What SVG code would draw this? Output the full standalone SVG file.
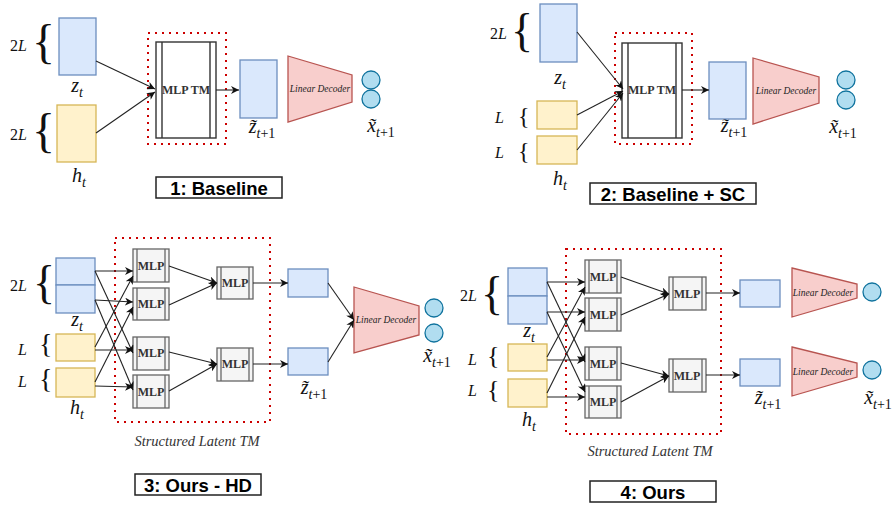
<svg xmlns="http://www.w3.org/2000/svg" width="893" height="505" viewBox="0 0 893 505">
<defs>
<marker id="arr" viewBox="0 0 10 10" refX="10" refY="5" markerWidth="8" markerHeight="8" markerUnits="userSpaceOnUse" orient="auto">
<path d="M0,0 L10,5 L0,10 L3,5 Z" fill="#111"/>
</marker>
<style>
.zb{fill:#dae8fc;stroke:#6c8ebf;stroke-width:1.3}
.hb{fill:#fff2cc;stroke:#d6b656;stroke-width:1.3}
.mlp{fill:#f5f5f5;stroke:#666;stroke-width:1.3}
.mlpl{stroke:#666;stroke-width:1.3}
.tm{fill:#fff;stroke:#333;stroke-width:1.4}
.tml{stroke:#333;stroke-width:1.4}
.dec{fill:#f8cecc;stroke:#b85450;stroke-width:1.3}
.circ{fill:#b1ddf0;stroke:#10739e;stroke-width:1.3}
.dot{fill:none;stroke:#cc0000;stroke-width:2;stroke-dasharray:2 5}
.edge{stroke:#222;stroke-width:1.1;fill:none;marker-end:url(#arr)}
.m{font-family:"Liberation Serif",serif;font-style:italic;fill:#111}
.c{text-anchor:middle;font-size:20px}
.s{font-size:14px}
.up{font-style:normal}
.br{font-family:"Liberation Serif",serif;fill:#111}
.mt{font-family:"Liberation Serif",serif;font-weight:bold;font-size:12px;fill:#333;text-anchor:middle}
.dt{font-family:"Liberation Serif",serif;font-style:italic;font-size:9.5px;fill:#222;text-anchor:middle}
.st{font-family:"Liberation Serif",serif;font-style:italic;font-size:14.5px;fill:#333;text-anchor:middle}
.tb{fill:#fff;stroke:#222;stroke-width:1.5}
.tt{font-family:"Liberation Sans",Arial,sans-serif;font-weight:bold;font-size:18.5px;fill:#000;text-anchor:middle}
</style>
</defs>

<!-- Panel 1 -->
<g id="p1-labels">
<text class="m" x="10" y="51" font-size="16"><tspan class="up">2</tspan>L</text>
<text class="br" x="32" y="58" font-size="48">{</text>
<text class="m" x="10" y="140" font-size="16"><tspan class="up">2</tspan>L</text>
<text class="br" x="32" y="147" font-size="48">{</text>
<text class="m c" x="77" y="92">z<tspan class="s" dy="5">t</tspan></text>
<text class="m c" x="79" y="182">h<tspan class="s" dy="5">t</tspan></text>
<text class="m c" x="262" y="133">z̃<tspan class="s" dy="5">t<tspan class="up">+1</tspan></tspan></text>
<text class="m c" x="381" y="132">x̃<tspan class="s" dy="5">t<tspan class="up">+1</tspan></tspan></text>
</g>
<g id="p1-zt"><rect class="zb" x="59" y="18" width="37" height="57"/></g>
<g id="p1-ht"><rect class="hb" x="57" y="105" width="39" height="57"/></g>
<g id="p1-tm">
<rect class="dot" x="148" y="33" width="78" height="111"/>
<rect class="tm" x="156" y="42" width="60" height="96"/>
<line class="tml" x1="162" y1="42" x2="162" y2="138"/>
<line class="tml" x1="210" y1="42" x2="210" y2="138"/>
<text class="mt" x="186" y="94">MLP TM</text>
</g>
<g id="p1-zn"><rect class="zb" x="240" y="60" width="37" height="58"/></g>
<g id="p1-dec">
<path class="dec" d="M288,56 L352,75 L352,102 L288,122 Z"/>
<text class="dt" x="320" y="92">Linear Decoder</text>
</g>
<g id="p1-x"><circle class="circ" cx="371" cy="80" r="9"/><circle class="circ" cx="371" cy="99" r="9"/></g>
<g id="p1-title"><rect class="tb" x="156" y="177" width="126" height="21"/><text class="tt" x="219" y="194.5">1: Baseline</text></g>
<g id="p1-edges">
<path class="edge" d="M96,61 L155,89"/>
<path class="edge" d="M96,133 L155,92"/>
<path class="edge" d="M216,90 L239,90"/>
</g>

<!-- Panel 2 -->
<g id="p2-labels">
<text class="m" x="490" y="39" font-size="16"><tspan class="up">2</tspan>L</text>
<text class="br" x="511" y="46" font-size="46">{</text>
<text class="m" x="495" y="123" font-size="16">L</text>
<text class="br" x="518" y="124" font-size="24">{</text>
<text class="m" x="495" y="158" font-size="16">L</text>
<text class="br" x="518" y="159" font-size="24">{</text>
<text class="m c" x="560" y="84">z<tspan class="s" dy="5">t</tspan></text>
<text class="m c" x="560" y="185">h<tspan class="s" dy="5">t</tspan></text>
<text class="m c" x="734" y="132">z̃<tspan class="s" dy="5">t<tspan class="up">+1</tspan></tspan></text>
<text class="m c" x="843" y="133">x̃<tspan class="s" dy="5">t<tspan class="up">+1</tspan></tspan></text>
</g>
<g id="p2-zt"><rect class="zb" x="540" y="4" width="37" height="58"/></g>
<g id="p2-ht1"><rect class="hb" x="537" y="101" width="40" height="28"/></g>
<g id="p2-ht2"><rect class="hb" x="537" y="136" width="40" height="28"/></g>
<g id="p2-tm">
<rect class="dot" x="615" y="33" width="77" height="111"/>
<rect class="tm" x="622" y="43" width="60" height="95"/>
<line class="tml" x1="628" y1="43" x2="628" y2="138"/>
<line class="tml" x1="676" y1="43" x2="676" y2="138"/>
<text class="mt" x="652" y="94">MLP TM</text>
</g>
<g id="p2-zn"><rect class="zb" x="709" y="62" width="37" height="57"/></g>
<g id="p2-dec">
<path class="dec" d="M753,58 L819,77 L819,103 L753,124 Z"/>
<text class="dt" x="786" y="94">Linear Decoder</text>
</g>
<g id="p2-x"><circle class="circ" cx="846" cy="80" r="9"/><circle class="circ" cx="846" cy="100" r="9"/></g>
<g id="p2-title"><rect class="tb" x="590" y="183" width="166" height="21"/><text class="tt" x="673" y="200.5">2: Baseline + SC</text></g>
<g id="p2-edges">
<path class="edge" d="M577,32 L623,89"/>
<path class="edge" d="M577,115 L623,91"/>
<path class="edge" d="M577,150 L623,93"/>
<path class="edge" d="M682,90 L709,90"/>
</g>

<!-- Panel 3 -->
<g id="p3-labels">
<text class="m" x="10" y="291" font-size="16"><tspan class="up">2</tspan>L</text>
<text class="br" x="33" y="298" font-size="46">{</text>
<text class="m" x="18" y="355" font-size="16">L</text>
<text class="br" x="39" y="353" font-size="28">{</text>
<text class="m" x="18" y="387" font-size="16">L</text>
<text class="br" x="39" y="388" font-size="28">{</text>
<text class="m c" x="77" y="326">z<tspan class="s" dy="5">t</tspan></text>
<text class="m c" x="77" y="414">h<tspan class="s" dy="5">t</tspan></text>
<text class="m c" x="314" y="394">z̃<tspan class="s" dy="5">t<tspan class="up">+1</tspan></tspan></text>
<text class="m c" x="437" y="362">x̃<tspan class="s" dy="5">t<tspan class="up">+1</tspan></tspan></text>
<text class="st" x="197" y="446">Structured Latent TM</text>
</g>
<g id="p3-zt"><rect class="zb" x="56" y="258" width="39" height="27"/><rect class="zb" x="56" y="285" width="39" height="28"/></g>
<g id="p3-ht1"><rect class="hb" x="56" y="334" width="39" height="27"/></g>
<g id="p3-ht2"><rect class="hb" x="56" y="368" width="39" height="29"/></g>
<rect class="dot" x="115" y="238" width="155" height="184"/>
<g id="p3-mlp1"><rect class="mlp" x="133" y="249" width="36" height="33"/><line class="mlpl" x1="137" y1="249" x2="137" y2="282"/><line class="mlpl" x1="165" y1="249" x2="165" y2="282"/><text class="mt" x="151" y="270">MLP</text></g>
<g id="p3-mlp2"><rect class="mlp" x="133" y="288" width="36" height="32"/><line class="mlpl" x1="137" y1="288" x2="137" y2="320"/><line class="mlpl" x1="165" y1="288" x2="165" y2="320"/><text class="mt" x="151" y="308">MLP</text></g>
<g id="p3-mlp3"><rect class="mlp" x="133" y="337" width="36" height="33"/><line class="mlpl" x1="137" y1="337" x2="137" y2="370"/><line class="mlpl" x1="165" y1="337" x2="165" y2="370"/><text class="mt" x="151" y="357">MLP</text></g>
<g id="p3-mlp4"><rect class="mlp" x="133" y="375" width="36" height="33"/><line class="mlpl" x1="137" y1="375" x2="137" y2="408"/><line class="mlpl" x1="165" y1="375" x2="165" y2="408"/><text class="mt" x="151" y="396">MLP</text></g>
<g id="p3-mlp5"><rect class="mlp" x="217" y="267" width="36" height="32"/><line class="mlpl" x1="221" y1="267" x2="221" y2="299"/><line class="mlpl" x1="249" y1="267" x2="249" y2="299"/><text class="mt" x="235" y="287">MLP</text></g>
<g id="p3-mlp6"><rect class="mlp" x="217" y="348" width="36" height="33"/><line class="mlpl" x1="221" y1="348" x2="221" y2="381"/><line class="mlpl" x1="249" y1="348" x2="249" y2="381"/><text class="mt" x="235" y="368">MLP</text></g>
<g id="p3-zn1"><rect class="zb" x="288" y="269" width="40" height="28"/></g>
<g id="p3-zn2"><rect class="zb" x="288" y="348" width="40" height="27"/></g>
<g id="p3-dec">
<path class="dec" d="M354,287 L419,306 L419,335 L354,353 Z"/>
<text class="dt" x="386" y="323">Linear Decoder</text>
</g>
<g id="p3-x"><circle class="circ" cx="434" cy="308" r="9"/><circle class="circ" cx="434" cy="333" r="9"/></g>
<g id="p3-title"><rect class="tb" x="135" y="474" width="126" height="21"/><text class="tt" x="198" y="491.5">3: Ours - HD</text></g>
<g id="p3-edges">
<path class="edge" d="M95,271 L133,271"/>
<path class="edge" d="M95,271 L133,353"/>
<path class="edge" d="M95,300 L133,302"/>
<path class="edge" d="M95,300 L133,390"/>
<path class="edge" d="M95,350 L133,350"/>
<path class="edge" d="M95,347 L133,276"/>
<path class="edge" d="M95,386 L133,387"/>
<path class="edge" d="M95,382 L133,307"/>
<path class="edge" d="M169,266 L217,283"/>
<path class="edge" d="M169,305 L217,283"/>
<path class="edge" d="M169,352 L217,364"/>
<path class="edge" d="M169,391 L217,364"/>
<path class="edge" d="M253,283 L288,283"/>
<path class="edge" d="M253,364 L288,364"/>
<path class="edge" d="M328,283 L354,320"/>
<path class="edge" d="M328,362 L354,320"/>
</g>

<!-- Panel 4 -->
<g id="p4-labels">
<text class="m" x="460" y="301" font-size="16"><tspan class="up">2</tspan>L</text>
<text class="br" x="481" y="309" font-size="46">{</text>
<text class="m" x="468" y="365" font-size="16">L</text>
<text class="br" x="487" y="364" font-size="26">{</text>
<text class="m" x="468" y="396" font-size="16">L</text>
<text class="br" x="487" y="398" font-size="26">{</text>
<text class="m c" x="529" y="337">z<tspan class="s" dy="5">t</tspan></text>
<text class="m c" x="529" y="426">h<tspan class="s" dy="5">t</tspan></text>
<text class="m c" x="768" y="404">z̃<tspan class="s" dy="5">t<tspan class="up">+1</tspan></tspan></text>
<text class="m c" x="878" y="404">x̃<tspan class="s" dy="5">t<tspan class="up">+1</tspan></tspan></text>
<text class="st" x="650" y="456">Structured Latent TM</text>
</g>
<g id="p4-zt"><rect class="zb" x="508" y="268" width="39" height="28"/><rect class="zb" x="508" y="296" width="39" height="28"/></g>
<g id="p4-ht1"><rect class="hb" x="508" y="344" width="39" height="27"/></g>
<g id="p4-ht2"><rect class="hb" x="508" y="379" width="39" height="28"/></g>
<rect class="dot" x="566" y="249" width="155" height="185"/>
<g id="p4-mlp1"><rect class="mlp" x="585" y="260" width="36" height="33"/><line class="mlpl" x1="589" y1="260" x2="589" y2="293"/><line class="mlpl" x1="617" y1="260" x2="617" y2="293"/><text class="mt" x="603" y="281">MLP</text></g>
<g id="p4-mlp2"><rect class="mlp" x="585" y="298" width="36" height="33"/><line class="mlpl" x1="589" y1="298" x2="589" y2="331"/><line class="mlpl" x1="617" y1="298" x2="617" y2="331"/><text class="mt" x="603" y="319">MLP</text></g>
<g id="p4-mlp3"><rect class="mlp" x="585" y="347" width="36" height="33"/><line class="mlpl" x1="589" y1="347" x2="589" y2="380"/><line class="mlpl" x1="617" y1="347" x2="617" y2="380"/><text class="mt" x="603" y="368">MLP</text></g>
<g id="p4-mlp4"><rect class="mlp" x="585" y="386" width="36" height="32"/><line class="mlpl" x1="589" y1="386" x2="589" y2="418"/><line class="mlpl" x1="617" y1="386" x2="617" y2="418"/><text class="mt" x="603" y="406">MLP</text></g>
<g id="p4-mlp5"><rect class="mlp" x="669" y="277" width="37" height="33"/><line class="mlpl" x1="673" y1="277" x2="673" y2="310"/><line class="mlpl" x1="702" y1="277" x2="702" y2="310"/><text class="mt" x="687" y="298">MLP</text></g>
<g id="p4-mlp6"><rect class="mlp" x="669" y="359" width="37" height="33"/><line class="mlpl" x1="673" y1="359" x2="673" y2="392"/><line class="mlpl" x1="702" y1="359" x2="702" y2="392"/><text class="mt" x="687" y="380">MLP</text></g>
<g id="p4-zn1"><rect class="zb" x="740" y="280" width="40" height="27"/></g>
<g id="p4-zn2"><rect class="zb" x="740" y="359" width="40" height="27"/></g>
<g id="p4-dec1">
<path class="dec" d="M792,268 L857,284 L857,298 L792,317 Z"/>
<text class="dt" x="823" y="296">Linear Decoder</text>
</g>
<g id="p4-dec2">
<path class="dec" d="M792,347 L857,363 L857,377 L792,396 Z"/>
<text class="dt" x="823" y="375">Linear Decoder</text>
</g>
<g id="p4-x1"><circle class="circ" cx="872" cy="292" r="9"/></g>
<g id="p4-x2"><circle class="circ" cx="872" cy="370" r="9"/></g>
<g id="p4-title"><rect class="tb" x="590" y="481" width="126" height="21"/><text class="tt" x="653" y="498.5">4: Ours</text></g>
<g id="p4-edges">
<path class="edge" d="M547,282 L585,282"/>
<path class="edge" d="M547,282 L585,362"/>
<path class="edge" d="M547,312 L585,312"/>
<path class="edge" d="M547,312 L585,392"/>
<path class="edge" d="M547,360 L585,360"/>
<path class="edge" d="M547,357 L585,287"/>
<path class="edge" d="M547,397 L585,397"/>
<path class="edge" d="M547,393 L585,317"/>
<path class="edge" d="M621,277 L669,294"/>
<path class="edge" d="M621,315 L669,294"/>
<path class="edge" d="M621,363 L669,376"/>
<path class="edge" d="M621,402 L669,376"/>
<path class="edge" d="M706,293 L740,293"/>
<path class="edge" d="M706,375 L740,375"/>
</g>
</svg>
